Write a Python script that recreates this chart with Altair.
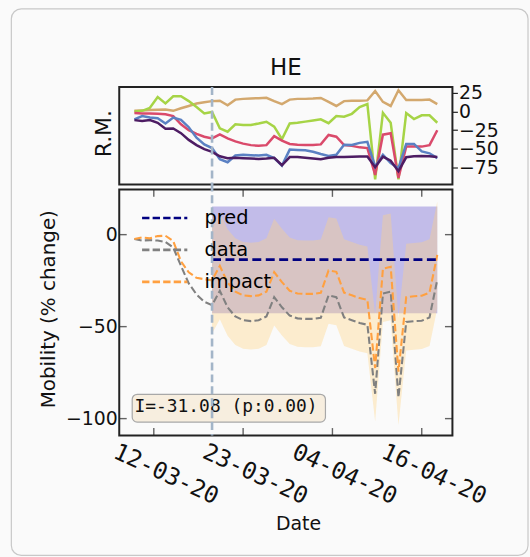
import altair as alt
import pandas as pd

# ---------------- data ----------------
days = list(range(40))
tick_pos = [2.5, 14, 25.5, 37]
tick_labels = ["12-03-20", "23-03-20", "04-04-20", "16-04-20"]
intervention_day = 10

rm_tan = [1, 1.5, 2, 2.5, 2.7, 1, 4.5, 7.5, 10.7, 12.5,
          14, 14.5, 8.5, 16, 17, 17.5, 18, 18.5, 14, 10,
          16, 17, 17, 17.5, 18.3, 13, 7.5, 14, 14.5, 14.5,
          15, 27.5, 13, 7.5, 28.5, 15.5, 15.5, 15.5, 16, 10]
rm_green = [0, 1, 5, 19.5, 11, 20.5, 20.5, 14, 6, -2.5,
            -0.5, -22.5, -27, -17, -18, -18, -16, -13.7, -20.3, -37,
            -16, -15, -13.5, -12, -10.5, -15.6, -6, -7, -3, 6,
            10, -91, -1.7, -15, -91, -2, -10, -5, -5, -15]
rm_red = [-2, -2.5, -2.5, -3, -3.5, -6, -17, -25, -30, -33.7,
          -36, -30.6, -36, -40, -43, -45, -46, -45, -33, -39,
          -43.5, -44.5, -44.7, -44.7, -44, -31.4, -33.7, -45, -46, -48,
          -49, -85, -31, -29, -89, -47, -47, -47, -45, -25]
rm_blue = [-10.5, -6, -8, -9, -16, -8, -11, -21, -35, -44,
           -49, -64, -68, -59, -58, -58.5, -59, -58, -62.5, -72.5,
           -51, -51.5, -52, -54, -57, -59.5, -58, -44.5, -44.7, -42,
           -40.5, -74, -58, -69, -76, -43.4, -43.4, -53.5, -56, -62.5]
rm_purple = [-11.5, -12.5, -11.5, -15, -23, -22.6, -29, -38, -45, -50.5,
             -54, -60, -62.5, -62, -62.5, -63, -63.5, -63, -62, -72,
             -61, -61, -62, -63, -64, -62, -61, -61, -60.5, -60.3,
             -60.3, -74.6, -60.5, -66, -80, -61.3, -60, -59.5, -60, -61]

mob_data = [-2.4, -3.2, -3, -3.2, -4, -7, -17, -26.5, -32.5, -36.5,
            -38.3, -30.5, -39.5, -44.5, -46.5, -47, -46.5, -44.5, -34, -39.5,
            -44, -45.5, -45.8, -45.8, -45.2, -33, -34, -45, -46.5, -48,
            -49, -86.5, -32, -31, -88.5, -47.5, -47, -46.8, -45, -24.5]
mob_impact = [-2.4, -1.5, -2, -0.8, -0.6, -3.5, -14.5, -20.5, -23.5, -24.2,
              -24.8, -17, -26, -31, -33, -33.4, -33, -31, -20.4, -25.8,
              -30.5, -32, -32.2, -32.2, -31.6, -19.5, -20.2, -31.5, -33, -34.5,
              -35.5, -72.5, -18.5, -17.5, -74.5, -34, -33.5, -33.2, -31.5, -11]
impact_upper = [4.2, 12, 3, -2, -4, -4.4, -4, -2, 8.6, 3.2,
                -1.5, -3, -3.2, -3.2, -2.6, 9.5, 8.8, -2.5, -4, -5.5,
                -6.5, -43.5, 10.5, 11.5, -45.5, -5, -4.5, -4.2, -2.5, 18]
impact_lower = [-53.8, -46, -55, -60, -62, -62.4, -62, -60, -49.4, -54.8,
                -59.5, -61, -61.2, -61.2, -60.6, -48.5, -49.2, -60.5, -62, -63.5,
                -64.5, -101.5, -47.5, -46.5, -103.5, -63, -62.5, -62.2, -60.5, -40]
pred_value = -13.6
pred_lower = -42.7
pred_upper = 15.3
impact_text = "I=-31.08 (p:0.00)"

# ---------------- layout / style constants ----------------
W = 335
H_TOP = 98
H_BOT = 247.5
GAP = 5
X_DOMAIN = [-1.95, 40.95]
Y_TOP_DOMAIN = [-97.7, 33]
Y_BOT_DOMAIN = [-109.2, 24.6]
BOX_X = [-0.28, 24.6]
BOX_Y = [-101.9, -86.8]
TEXT_POS = (11.8, -93.8)
MINUS_EXPR = "replace(datum.label, '-', '\u2212')"

rm_names = ["tan", "green", "red", "blue", "purple"]
rm_colors = ["#d3a86e", "#a6d446", "#da4a6b", "#5b81c3", "#4d1c63"]
series_names = ["pred", "data", "impact"]
series_colors = ["#000080", "#808080", "#ffa040"]

# ---------------- tables ----------------
rm_rows = []
for name, vals in zip(rm_names, [rm_tan, rm_green, rm_red, rm_blue, rm_purple]):
    for d, v in zip(days, vals):
        rm_rows.append({"day": d, "value": v, "series": name})
rm_df = pd.DataFrame(rm_rows)

post_days = days[intervention_day:]
line_rows = []
for d, v in zip(days, mob_data):
    line_rows.append({"day": d, "value": v, "series": "data"})
for d, v in zip(days, mob_impact):
    line_rows.append({"day": d, "value": v, "series": "impact"})
lines_df = pd.DataFrame(line_rows)
pred_df = pd.DataFrame({"day": post_days, "value": [pred_value] * len(post_days),
                        "series": ["pred"] * len(post_days)})
pred_band_df = pd.DataFrame({"day": post_days, "lo": [pred_lower] * len(post_days),
                             "hi": [pred_upper] * len(post_days)})
imp_band_df = pd.DataFrame({"day": post_days, "lo": impact_lower, "hi": impact_upper})
rule_df = pd.DataFrame({"day": [intervention_day]})
box_df = pd.DataFrame({"x1": [BOX_X[0]], "x2": [BOX_X[1]], "y1": [BOX_Y[0]], "y2": [BOX_Y[1]]})
text_df = pd.DataFrame({"day": [TEXT_POS[0]], "value": [TEXT_POS[1]], "label": [impact_text]})
xt_df = pd.DataFrame({"day": tick_pos})
yt_df = pd.DataFrame({"value": [0, -50, -100]})

label_expr = " : ".join(f"datum.value == {p} ? '{l}'" for p, l in zip(tick_pos, tick_labels)) + " : ''"

# ---------------- top panel ----------------
x_top_scale = alt.Scale(domain=X_DOMAIN, nice=False, zero=False)
y_top_scale = alt.Scale(domain=Y_TOP_DOMAIN, nice=False, zero=False)

top_lines = alt.Chart(rm_df).mark_line(strokeWidth=2.5).encode(
    x=alt.X("day:Q", scale=x_top_scale, axis=None),
    y=alt.Y("value:Q", scale=y_top_scale,
            axis=alt.Axis(orient="right", values=[25, 0, -25, -50, -75], title="R.M.",
                          labelExpr=MINUS_EXPR, labelOverlap=False, labelFlush=False,
                          grid=False, domain=False, tickSize=5, tickWidth=1.2, tickColor="#222",
                          labelFontSize=19, labelPadding=1, labelColor="#111",
                          titleFontSize=22, titleFontWeight="normal", titleColor="#111",
                          titleAngle=-90, titleX=-350.5, titleY=46.5,
                          titleAlign="center", titleBaseline="middle", zindex=1)),
    color=alt.Color("series:N", scale=alt.Scale(domain=rm_names, range=rm_colors), legend=None),
)
top_rule = alt.Chart(rule_df).mark_rule(color="#a3b5c8", strokeWidth=2.6, strokeDash=[8, 4]).encode(
    x=alt.X("day:Q", scale=x_top_scale, axis=None)
)
top = alt.layer(top_lines, top_rule).properties(
    width=W, height=H_TOP,
    title=alt.TitleParams("HE", fontSize=23, fontWeight="normal", color="#111",
                          anchor="middle", baseline="alphabetic", frame="group", offset=8, dy=22),
)

# ---------------- bottom panel ----------------
x_bot_scale = alt.Scale(domain=X_DOMAIN, nice=False, zero=False)
y_bot_scale = alt.Scale(domain=Y_BOT_DOMAIN, nice=False, zero=False)
x_axis = alt.Axis(values=tick_pos, labelExpr=label_expr, tickSize=0, domain=False, grid=False,
                  labelAngle=25, labelAlign="center", labelBaseline="middle",
                  labelPadding=38.8, labelOffset=11.7, labelFont="DejaVu Sans Mono",
                  labelFontSize=23.5, labelColor="#111", labelOverlap=False, labelFlush=False,
                  title="Date", titleFontSize=19, titleFontWeight="normal", titleColor="#111",
                  titleX=179.8, titleY=88, titleAlign="center", titleBaseline="middle")
y_axis = alt.Axis(values=[0, -50, -100], tickSize=0, domain=False, grid=False,
                  labelExpr=MINUS_EXPR,
                  labelFontSize=19, labelPadding=2, labelColor="#111",
                  title="Mobility (% change)", titleFontSize=20, titleFontWeight="normal",
                  titleColor="#111", titleAngle=-90, titleX=-71, titleY=120,
                  titleAlign="center", titleBaseline="middle")

def xb(field="day"):
    return alt.X(f"{field}:Q", scale=x_bot_scale, axis=x_axis)

def yb(field="value"):
    return alt.Y(f"{field}:Q", scale=y_bot_scale, axis=y_axis)

color_enc = alt.Color(
    "series:N",
    scale=alt.Scale(domain=series_names, range=series_colors),
    sort=series_names,
    legend=alt.Legend(title=None, orient="none", legendX=35.2, legendY=18.25, direction="vertical",
                      symbolType="M-2.5,0H2.5", symbolSize=331, symbolStrokeWidth=2.6,
                      symbolDash=[7.4, 3.2], labelFontSize=19.5, labelOffset=29.5, labelColor="#000",
                      rowPadding=12.1, padding=0, zindex=1),
)

# decorative rounded frame around the whole figure
border = alt.Chart(pd.DataFrame({"k": [0]})).mark_rect(
    fill="transparent", stroke="#c8c8c8", strokeWidth=1.2, cornerRadius=10
).encode(x=alt.value(-108.5), y=alt.value(-181.5), x2=alt.value(411), y2=alt.value(368))

pred_band = alt.Chart(pred_band_df).mark_area(color="#6a5acd", opacity=0.39).encode(
    x=xb(), y=yb("lo"), y2="hi:Q")
imp_band = alt.Chart(imp_band_df).mark_area(color="#ffd382", opacity=0.37).encode(
    x=xb(), y=yb("lo"), y2="hi:Q")
box = alt.Chart(box_df).mark_rect(fill="#f7eedf", stroke="#a8a8a8", strokeWidth=1.2,
                                  cornerRadius=5).encode(
    x=xb("x1"), x2="x2:Q", y=yb("y1"), y2="y2:Q")
box_text = alt.Chart(text_df).mark_text(font="DejaVu Sans Mono", fontSize=18, color="#111",
                                        align="center", baseline="middle").encode(
    x=xb(), y=yb(), text="label:N")
lines = alt.Chart(lines_df).mark_line(strokeWidth=2.1, strokeDash=[7.4, 3.2]).encode(
    x=xb(), y=yb(), color=color_enc)
pred_line = alt.Chart(pred_df).mark_line(strokeWidth=2.7, strokeDash=[9, 4.5]).encode(
    x=xb(), y=yb(), color=color_enc)
# intervention line, carried up through the gap between the two panels
bot_rule = alt.Chart(rule_df).mark_rule(color="#a3b5c8", strokeWidth=2.6, strokeDash=[8, 4]).encode(
    x=xb(), y=alt.value(-GAP - 1), y2=alt.value(H_BOT))

tick_style = dict(thickness=1.4, size=7.5, color="#222")
tick_b = alt.Chart(xt_df).mark_tick(orient="vertical", **tick_style).encode(
    x=xb(), y=alt.value(H_BOT - 3.75))
tick_t = alt.Chart(xt_df).mark_tick(orient="vertical", **tick_style).encode(
    x=xb(), y=alt.value(3.75))
tick_l = alt.Chart(yt_df).mark_tick(orient="horizontal", **tick_style).encode(
    y=yb(), x=alt.value(3.75))
tick_r = alt.Chart(yt_df).mark_tick(orient="horizontal", **tick_style).encode(
    y=yb(), x=alt.value(W - 3.75))

bottom = alt.layer(border, pred_band, imp_band, box, box_text, lines, pred_line, bot_rule,
                   tick_b, tick_t, tick_l, tick_r).properties(width=W, height=H_BOT)

chart = alt.vconcat(top, bottom, spacing=GAP, bounds="flush").resolve_scale(
    color="independent").resolve_legend(color="independent").properties(
    background="#fafafa",
    padding={"left": 8.9, "top": 4.9, "right": 0, "bottom": 0},
).configure(font="DejaVu Sans").configure_view(stroke="#222", strokeWidth=2)

chart.save("out.html", embed_options={"renderer": "svg", "actions": False})
